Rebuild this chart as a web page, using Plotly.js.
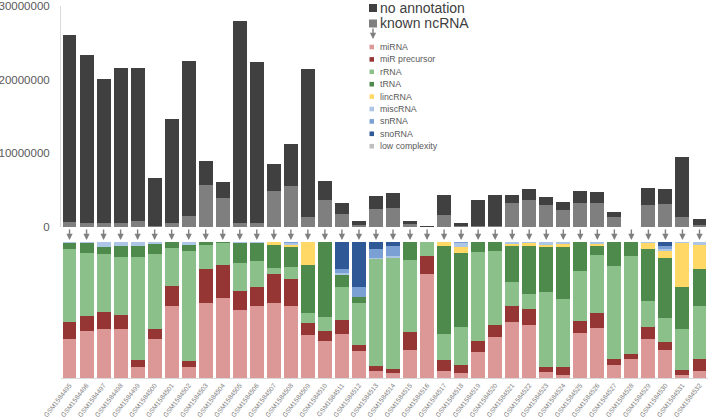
<!DOCTYPE html>
<html>
<head>
<meta charset="utf-8">
<script src="https://cdn.plot.ly/plotly-3.0.1.min.js"></script>
<style>html,body{margin:0;padding:0;background:#fff;}#chart{width:709px;height:420px;}</style>
</head>
<body>
<div id="chart"></div>
<script>
const samples = ['GSM1584495','GSM1584496','GSM1584497','GSM1584498','GSM1584499','GSM1584500','GSM1584501','GSM1584502','GSM1584503','GSM1584504',
  'GSM1584505','GSM1584506','GSM1584507','GSM1584508','GSM1584509','GSM1584510','GSM1584511','GSM1584512','GSM1584513','GSM1584514',
  'GSM1584515','GSM1584516','GSM1584517','GSM1584518','GSM1584519','GSM1584520','GSM1584521','GSM1584522','GSM1584523','GSM1584524',
  'GSM1584525','GSM1584526','GSM1584527','GSM1584528','GSM1584529','GSM1584530','GSM1584531','GSM1584532'];

// read counts (top panel)
const knownNcRNA = [700000,600000,500000,600000,800000,200000,500000,1500000,5700000,4000000,
  500000,500000,4900000,5600000,1300000,3700000,1760000,300000,2500000,2600000,
  350000,50000,1600000,100000,150000,100000,3250000,3700000,3000000,2260000,
  3250000,3250000,1350000,20000,3000000,3070000,1350000,270000];
const noAnnotation = [25400000,22700000,19600000,21050000,20850000,6400000,14200000,21100000,3300000,2100000,
  27500000,21900000,3700000,5700000,20100000,2500000,1440000,470000,1700000,2000000,
  450000,50000,2700000,500000,3450000,4200000,1150000,1400000,1060000,1140000,
  1650000,1550000,650000,30000,2300000,2030000,8150000,830000];

// composition of known ncRNA, percent (bottom panel)
const miRNA = [29,34.3,36.3,35.8,7.8,28.4,52.7,8.3,55.1,59.1,49.8,52.7,55.1,52.7,31.4,27.5,32.4,19.6,5.1,3.4,20.3,76.5,5.1,3.4,19.4,29.9,41.4,39,4.7,2.5,32.8,36.8,9.6,14,28.9,20.3,2.5,5.4];
const miRprecursor = [12.5,11,12,10.5,5.1,7.8,15,3.9,25.2,24.3,14.2,14.5,21.3,20.3,9.3,7.4,10.3,4.9,3.4,3.4,13.7,13.2,7.8,5.9,7.6,9.1,11.8,11.8,3.2,5.9,9.3,11.3,4.2,3.7,8.3,6.1,3.2,8.8];
const rRNA = [53,46.3,42.9,42.9,76.2,54.9,27.7,81.1,17.4,15.7,20.8,18.6,4.4,8.8,6.9,10.3,24,30.4,78.7,81.6,52.7,10.3,19.4,27.9,65.7,54.4,17.2,10.8,55.1,49.8,36.8,42.6,68.4,71.8,19.6,17.6,30.6,39];
const tRNA = [5,7.4,4.9,8.1,7.6,7.1,4.6,4.4,2,0.7,14.2,13.7,16.9,14.5,35.8,54.9,9.3,4.4,0,0,13.2,0,64.5,54.9,7.4,6.6,26.5,35.8,33.1,38,20.8,6.4,17.9,10.5,37.7,44.1,30.9,27.2];
const lincRNA = [0,0,0,0,0,0,0,0,0,0,0,0,2.2,1.5,16.7,0,0,0,0,0,0,0,3.2,4.2,0,0,2,1.7,2,2,0.3,1.7,0,0,4.7,5.6,32.1,17.4];
const miscRNA = [0.5,1,3.9,2.7,3.2,1.7,0,2.2,0.3,0.2,1,0.5,0,1.5,0,0,1.2,0,1,1.2,0,0,0,2.9,0,0,1.2,1,2,2,0,1.2,0,0,0.7,1.5,0.7,2.2];
const snRNA = [0,0,0,0,0,0,0,0,0,0,0,0,0,0.7,0,0,3.2,7.4,6.9,7.1,0,0,0,0.7,0,0,0,0,0,0,0,0,0,0,0,1.5,0,0];
const snoRNA = [0,0,0,0,0,0,0,0,0,0,0,0,0,0,0,0,19.6,33.3,4.9,3.2,0,0,0,0,0,0,0,0,0,0,0,0,0,0,0,3.2,0,0];
const lowComplexity = [0,0,0,0,0,0,0,0,0,0,0,0,0,0,0,0,0,0,0,0,0,0,0,0,0,0,0,0,0,0,0,0,0,0,0,0,0,0];

const topNames = ['no annotation','known ncRNA'];
const topColors = ['#404040','#7f7f7f'];
const compNames = ['miRNA','miR precursor','rRNA','tRNA','lincRNA','miscRNA','snRNA','snoRNA','low complexity'];
const compSeries = [miRNA,miRprecursor,rRNA,tRNA,lincRNA,miscRNA,snRNA,snoRNA,lowComplexity];
const compColors = ['#dc9896','#963634','#8cc08b','#4e8a4c','#ffd866','#adc6e6','#7ba0d4','#2e5896','#bfbfbf'];

// plot geometry (pixels)
const W = 709, H = 420, L = 61, R = 1, T = 6, B = 42;
const PW = W - L - R, PH = H - T - B;
const px = x => (x - L) / PW;
const py = y => (H - B - y) / PH;

const traces = [];
traces.push({type:'bar', name:topNames[1], x:samples, y:knownNcRNA, xaxis:'x2', yaxis:'y', marker:{color:topColors[1]}, showlegend:false, hoverinfo:'x+y+name'});
traces.push({type:'bar', name:topNames[0], x:samples, y:noAnnotation, xaxis:'x2', yaxis:'y', marker:{color:topColors[0]}, showlegend:false, hoverinfo:'x+y+name'});
compSeries.forEach((s,i) => {
  traces.push({type:'bar', name:compNames[i], x:samples, y:s, xaxis:'x', yaxis:'y2', marker:{color:compColors[i]}, showlegend:false});
});

const annotations = [];
const shapes = [];
// arrows from each top bar to its composition bar
samples.forEach(s => {
  annotations.push({x:s, xref:'x', y:1.015, yref:'y2 domain', ax:0, ay:-12, axref:'pixel', ayref:'pixel',
    text:'', showarrow:true, arrowhead:2, arrowsize:0.9, arrowwidth:1.4, arrowcolor:'#7f7f7f', standoff:0, startstandoff:0});
});

// custom legend
const bigRows = [8, 23.5];
topNames.forEach((n,i) => {
  shapes.push({type:'rect', xref:'paper', yref:'paper', x0:px(369), x1:px(377), y0:py(bigRows[i]-4), y1:py(bigRows[i]+4), fillcolor:topColors[i], line:{width:0}});
  annotations.push({xref:'paper', yref:'paper', x:px(378), y:py(bigRows[i]), xanchor:'left', yanchor:'middle', text:n, showarrow:false,
    font:{family:'Liberation Sans, Arial, sans-serif', size:14, color:'#404040'}});
});
annotations.push({xref:'paper', yref:'paper', x:px(373), y:py(39), ax:0, ay:-12, axref:'pixel', ayref:'pixel', text:'', showarrow:true,
  arrowhead:2, arrowsize:0.9, arrowwidth:1.4, arrowcolor:'#7f7f7f', standoff:0});
compNames.forEach((n,i) => {
  const yc = 47 + i * 12.4;
  shapes.push({type:'rect', xref:'paper', yref:'paper', x0:px(369.5), x1:px(374), y0:py(yc-2.3), y1:py(yc+2.3), fillcolor:compColors[i], line:{width:0}});
  annotations.push({xref:'paper', yref:'paper', x:px(378), y:py(yc), xanchor:'left', yanchor:'middle', text:n, showarrow:false,
    font:{family:'Liberation Sans, Arial, sans-serif', size:8.8, color:'#595959'}});
});

const layout = {
  width: W, height: H,
  margin: {l:L, r:R, t:T, b:B, pad:0},
  paper_bgcolor:'#ffffff', plot_bgcolor:'#ffffff',
  barmode:'stack', bargap:0.18,
  showlegend:false,
  font:{family:'Liberation Sans, Arial, sans-serif', color:'#595959'},
  xaxis:{domain:[0,1], anchor:'y2', type:'category', range:[-0.5,37.5], tickangle:-52, automargin:false,
    tickfont:{size:6.6, color:'#808080'}, ticklabelstandoff:0, showline:true, linecolor:'#d9d9d9', linewidth:1, ticks:'', showgrid:false, zeroline:false},
  xaxis2:{domain:[0,1], anchor:'y', matches:'x', type:'category', showticklabels:false, showline:false, ticks:'', showgrid:false, zeroline:false},
  yaxis:{domain:[py(227),1], range:[0,30000000], dtick:10000000, tickformat:'d', showline:true, linecolor:'#d9d9d9', linewidth:1,
    showgrid:false, zeroline:false, ticks:'', ticklabelstandoff:8, automargin:false, tickfont:{size:11.5, color:'#595959'}},
  yaxis2:{domain:[0,py(242)], range:[0,100], showticklabels:false, showline:false, showgrid:false, zeroline:false, ticks:''},
  annotations: annotations,
  shapes: shapes
};

Plotly.newPlot('chart', traces, layout, {staticPlot:true, displayModeBar:false});
</script>
</body>
</html>
